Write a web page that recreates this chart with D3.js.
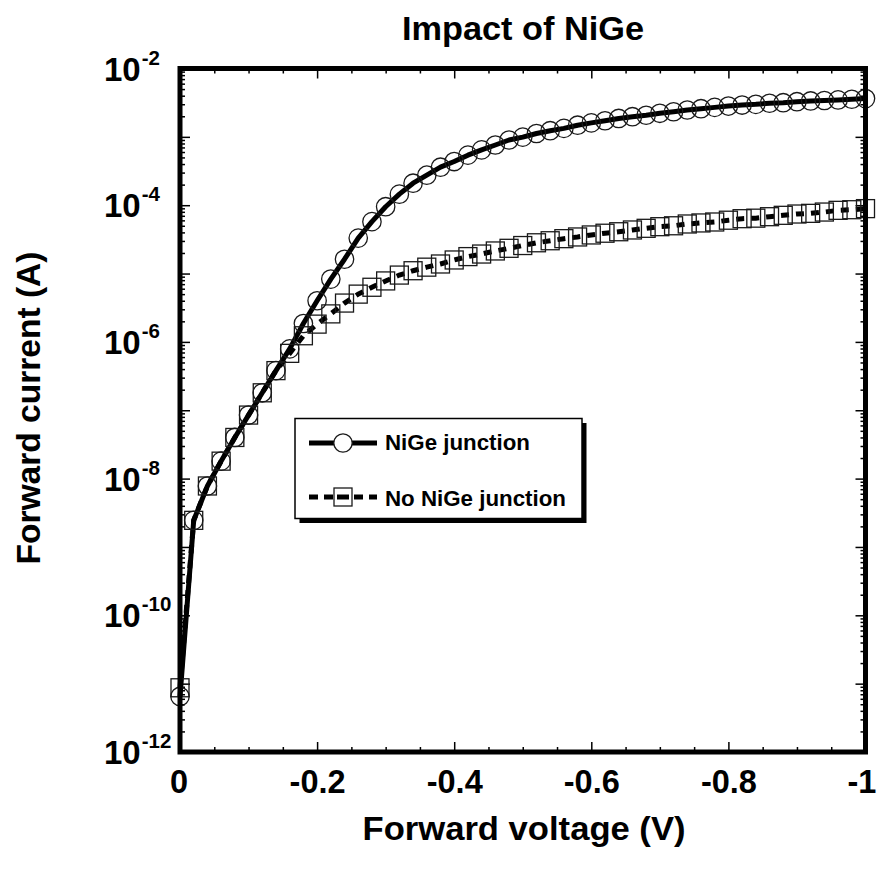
<!DOCTYPE html>
<html>
<head>
<meta charset="utf-8">
<script src="https://cdn.jsdelivr.net/npm/d3@7/dist/d3.min.js"></script>
<style>
  html, body { margin: 0; padding: 0; background: #fff; }
  svg { display: block; }
  text { font-family: "Liberation Sans", Arial, Helvetica, sans-serif; font-weight: bold; fill: #000; }
</style>
</head>
<body>
<svg id="chart" width="878" height="873"></svg>
<script>
// Forward voltage sweep (V), one sample every 20 mV
const voltage = [
  0, -0.02, -0.04, -0.06, -0.08, -0.10, -0.12, -0.14, -0.16, -0.18,
  -0.20, -0.22, -0.24, -0.26, -0.28, -0.30, -0.32, -0.34, -0.36, -0.38,
  -0.40, -0.42, -0.44, -0.46, -0.48, -0.50, -0.52, -0.54, -0.56, -0.58,
  -0.60, -0.62, -0.64, -0.66, -0.68, -0.70, -0.72, -0.74, -0.76, -0.78,
  -0.80, -0.82, -0.84, -0.86, -0.88, -0.90, -0.92, -0.94, -0.96, -0.98, -1.00
];

// Forward current (A) of the NiGe junction
const niGeCurrent = [
  6.5e-12, 2.45e-9, 7.8e-9, 1.8e-8, 4.0e-8, 8.5e-8, 1.8e-7, 3.8e-7, 7.9e-7, 1.86e-6,
  4.0e-6, 8.3e-6, 1.62e-5, 3.3e-5, 5.75e-5, 9.5e-5, 1.45e-4, 2.1e-4, 2.75e-4, 3.6e-4,
  4.35e-4, 5.4e-4, 6.45e-4, 7.6e-4, 9.0e-4, 9.9e-4, 1.12e-3, 1.23e-3, 1.33e-3, 1.48e-3,
  1.6e-3, 1.72e-3, 1.86e-3, 1.97e-3, 2.07e-3, 2.21e-3, 2.33e-3, 2.47e-3, 2.58e-3, 2.7e-3,
  2.82e-3, 2.92e-3, 2.99e-3, 3.1e-3, 3.16e-3, 3.27e-3, 3.35e-3, 3.4e-3, 3.47e-3, 3.55e-3, 3.63e-3
];

// Forward current (A) of the junction without NiGe
const noNiGeCurrent = [
  8.7e-12, 2.45e-9, 7.8e-9, 1.8e-8, 4.0e-8, 8.5e-8, 1.8e-7, 3.8e-7, 6.8e-7, 1.23e-6,
  1.82e-6, 2.57e-6, 3.7e-6, 5.0e-6, 6.3e-6, 7.8e-6, 9.5e-6, 1.1e-5, 1.24e-5, 1.38e-5,
  1.58e-5, 1.77e-5, 1.93e-5, 2.14e-5, 2.34e-5, 2.57e-5, 2.82e-5, 3.02e-5, 3.24e-5, 3.43e-5,
  3.67e-5, 3.89e-5, 4.09e-5, 4.34e-5, 4.59e-5, 4.85e-5, 5.0e-5, 5.31e-5, 5.5e-5, 5.68e-5,
  6.03e-5, 6.35e-5, 6.46e-5, 6.79e-5, 7.11e-5, 7.43e-5, 7.6e-5, 7.94e-5, 8.41e-5, 8.59e-5, 8.91e-5
];

// Axis ticks and labels
const xMajorTicks = [0, -0.2, -0.4, -0.6, -0.8, -1];
const xTickLabels = ["0", "-0.2", "-0.4", "-0.6", "-0.8", "-1"];
const yLabelExponents = [-2, -4, -6, -8, -10, -12];
const seriesNames = ["NiGe junction", "No NiGe junction"];

const svg = d3.select("#chart");
const plotLeft = 180, plotRight = 865.5, plotTop = 68.5, plotBottom = 752;

const x = d3.scaleLinear().domain([0, -1]).range([plotLeft, plotRight]);
const y = d3.scaleLog().domain([1e-12, 1e-2]).range([plotBottom, plotTop]);

// minor tick positions
const xMinor = d3.range(0, 21).map(i => -i * 0.05).filter(v => Math.abs((v / 0.2) - Math.round(v / 0.2)) > 1e-6);
const yMajor = d3.range(-12, -1).map(e => Math.pow(10, e));
const yMinor = [];
yMajor.slice(0, 10).forEach(d => { for (let k = 2; k <= 9; k++) yMinor.push(d * k); });

const tickStroke = 1.5;

function styleTicks(g) {
  g.select(".domain").remove();
  g.selectAll(".tick line").attr("stroke", "#000").attr("stroke-width", tickStroke);
}

// bottom axis: labelled majors + minors, ticks pointing into the plot
svg.append("g").attr("transform", `translate(0,${plotBottom})`)
  .call(d3.axisBottom(x).tickValues(xMajorTicks).tickSize(-10).tickPadding(18)
    .tickFormat((d, i) => xTickLabels[i]))
  .call(styleTicks)
  .call(g => g.selectAll(".tick text").attr("font-size", 32.5).attr("fill", "#000")
    .attr("dx", (d, i) => i === xMajorTicks.length - 1 ? -4 : (i === 0 ? -1.5 : 0))
    .style("font-family", "'Liberation Sans', Arial, sans-serif").style("font-weight", "bold"));
svg.append("g").attr("transform", `translate(0,${plotBottom})`)
  .call(d3.axisBottom(x).tickValues(xMinor).tickSize(-5).tickFormat(""))
  .call(styleTicks);

// top axis mirrors the bottom ticks
svg.append("g").attr("transform", `translate(0,${plotTop})`)
  .call(d3.axisTop(x).tickValues(xMajorTicks).tickSize(-10).tickFormat(""))
  .call(styleTicks);
svg.append("g").attr("transform", `translate(0,${plotTop})`)
  .call(d3.axisTop(x).tickValues(xMinor).tickSize(-5).tickFormat(""))
  .call(styleTicks);

// left and right log axes
svg.append("g").attr("transform", `translate(${plotLeft},0)`)
  .call(d3.axisLeft(y).tickValues(yMajor).tickSize(-10).tickFormat(""))
  .call(styleTicks);
svg.append("g").attr("transform", `translate(${plotLeft},0)`)
  .call(d3.axisLeft(y).tickValues(yMinor).tickSize(-5).tickFormat(""))
  .call(styleTicks);
svg.append("g").attr("transform", `translate(${plotRight},0)`)
  .call(d3.axisRight(y).tickValues(yMajor).tickSize(-10).tickFormat(""))
  .call(styleTicks);
svg.append("g").attr("transform", `translate(${plotRight},0)`)
  .call(d3.axisRight(y).tickValues(yMinor).tickSize(-5).tickFormat(""))
  .call(styleTicks);

// y tick labels as 10 with superscript exponent
const yLab = svg.append("g");
yLabelExponents.forEach(e => {
  const yy = y(Math.pow(10, e));
  const t = yLab.append("text").attr("x", 104).attr("y", yy + 12).attr("font-size", 33);
  t.append("tspan").text("10");
  t.append("tspan").attr("font-size", 20.5).attr("dx", 1).attr("dy", -16).text(String(e));
});

// curves
const lineGen = d3.line().x((d, i) => x(voltage[i])).y(d => y(d));
svg.append("path").datum(niGeCurrent)
  .attr("d", lineGen).attr("fill", "none").attr("stroke", "#000").attr("stroke-width", 5)
  .attr("stroke-linejoin", "round");
svg.append("path").datum(noNiGeCurrent)
  .attr("d", lineGen).attr("fill", "none").attr("stroke", "#000").attr("stroke-width", 5)
  .attr("stroke-dasharray", "8,7");

// markers
const markerStroke = "#1a1a1a";
svg.append("g").selectAll("rect").data(noNiGeCurrent).join("rect")
  .attr("x", (d, i) => x(voltage[i]) - 9).attr("y", d => y(d) - 9)
  .attr("width", 18).attr("height", 18)
  .attr("fill", "none").attr("stroke", markerStroke).attr("stroke-width", 1.3);
svg.append("g").selectAll("circle").data(niGeCurrent).join("circle")
  .attr("cx", (d, i) => x(voltage[i])).attr("cy", d => y(d)).attr("r", 9.2)
  .attr("fill", "none").attr("stroke", markerStroke).attr("stroke-width", 1.3);

// frame
svg.append("rect").attr("x", plotLeft).attr("y", plotTop)
  .attr("width", plotRight - plotLeft).attr("height", plotBottom - plotTop)
  .attr("fill", "none").attr("stroke", "#000").attr("stroke-width", 5);

// legend with drop shadow
const lg = svg.append("g");
const lx = 295, ly = 418.5, lw = 287, lh = 100;
lg.append("rect").attr("x", lx + 4.5).attr("y", ly + 4.5).attr("width", lw).attr("height", lh).attr("fill", "#000");
lg.append("rect").attr("x", lx).attr("y", ly).attr("width", lw).attr("height", lh)
  .attr("fill", "#fff").attr("stroke", "#000").attr("stroke-width", 1.5);

lg.append("line").attr("x1", 309).attr("x2", 377).attr("y1", 443).attr("y2", 443)
  .attr("stroke", "#000").attr("stroke-width", 5);
lg.append("circle").attr("cx", 343).attr("cy", 443).attr("r", 9.2)
  .attr("fill", "#fff").attr("stroke", markerStroke).attr("stroke-width", 1.3);
lg.append("text").attr("x", 385).attr("y", 450).attr("font-size", 22)
  .attr("textLength", 145).attr("lengthAdjust", "spacingAndGlyphs").text(seriesNames[0]);

lg.append("line").attr("x1", 309).attr("x2", 377).attr("y1", 497).attr("y2", 497)
  .attr("stroke", "#000").attr("stroke-width", 5).attr("stroke-dasharray", "9,6");
lg.append("rect").attr("x", 334).attr("y", 488).attr("width", 18).attr("height", 18)
  .attr("fill", "#fff").attr("stroke", markerStroke).attr("stroke-width", 1.3);
lg.append("line").attr("x1", 337).attr("x2", 349).attr("y1", 497).attr("y2", 497)
  .attr("stroke", "#000").attr("stroke-width", 5);
lg.append("text").attr("x", 385).attr("y", 506).attr("font-size", 22)
  .attr("textLength", 181).attr("lengthAdjust", "spacingAndGlyphs").text(seriesNames[1]);

// titles
svg.append("text").attr("x", 523).attr("y", 40).attr("text-anchor", "middle")
  .attr("font-size", 32.5).attr("textLength", 242).attr("lengthAdjust", "spacingAndGlyphs")
  .text("Impact of NiGe");
svg.append("text").attr("x", 524).attr("y", 840).attr("text-anchor", "middle")
  .attr("font-size", 32.5).attr("textLength", 323).attr("lengthAdjust", "spacingAndGlyphs")
  .text("Forward voltage (V)");
svg.append("text").attr("transform", "translate(40,408) rotate(-90)").attr("text-anchor", "middle")
  .attr("font-size", 32.5).attr("textLength", 313).attr("lengthAdjust", "spacingAndGlyphs")
  .text("Forward current (A)");
</script>
</body>
</html>
